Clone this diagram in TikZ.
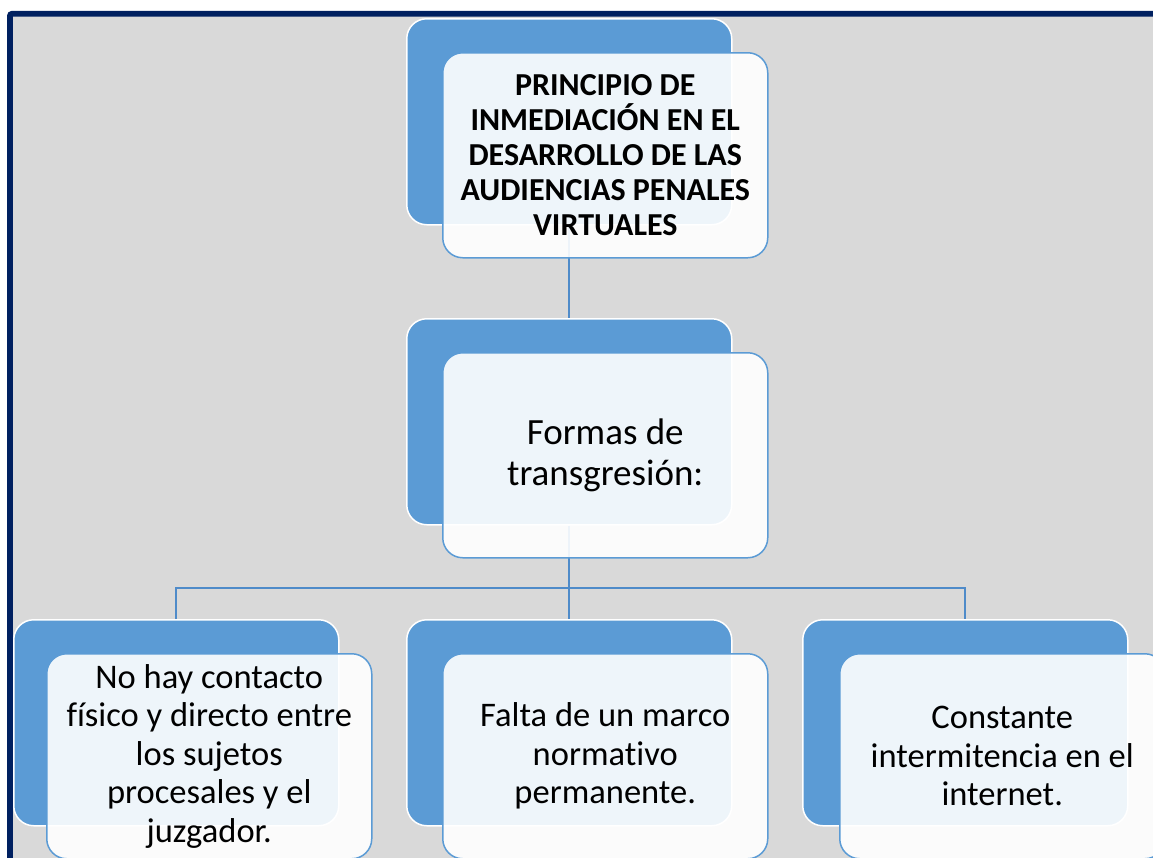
\documentclass[tikz,border=0pt]{standalone}
\usepackage{fontspec}
\setmainfont{Carlito}[Ligatures=NoCommon]
\definecolor{navy}{HTML}{002060}
\definecolor{bg}{HTML}{D9D9D9}
\definecolor{accent}{HTML}{5B9BD5}
\definecolor{linkc}{HTML}{4F8BC9}
\begin{document}
\begin{tikzpicture}[x=1pt,y=-1pt,
  backbox/.style={draw=white, line width=1.5pt, fill=accent, rounded corners=20pt,
    minimum width=325pt, minimum height=206pt, inner sep=0pt, anchor=north west},
  frontbox/.style={draw=accent, line width=1.5pt, fill=white, fill opacity=0.9, text opacity=1,
    rounded corners=20pt, minimum width=325pt, minimum height=205pt, inner sep=0pt,
    anchor=north west, align=center, text=black},
  link/.style={draw=linkc, line width=1.6pt},
  titlefont/.style={font=\fontsize{32}{35}\selectfont\bfseries},
  midfont/.style={font=\fontsize{37}{41}\selectfont},
  lowfont/.style={font=\fontsize{34.5}{38.5}\selectfont}]
\useasboundingbox (0,0) rectangle (1153,857);
\clip (0,0) rectangle (1153,857);
\fill[white] (0,0) rectangle (1153,857);
\draw[navy, line width=5.7pt, fill=bg, rounded corners=2pt] (10,13.8) rectangle (1180,900);
% back boxes
\node[backbox] (b1) at (406,18) {};
\node[backbox] (b2) at (406,318) {};
\node[backbox] (b3) at (13,619) {};
\node[backbox] (b4) at (406,619) {};
\node[backbox] (b5) at (802,619) {};
% connectors
\coordinate (hub) at (b2.south |- 0,588);
\draw[link] (b1.south) -- (b2.north);
\draw[link] (b2.south) -- (b4.north);
\draw[link] (b3.north) |- (hub) -| (b5.north);
% front boxes
\node[frontbox, titlefont] (f1) at (442,52) {PRINCIPIO DE\\INMEDIACIÓN EN EL\\DESARROLLO DE LAS\\AUDIENCIAS PENALES\\VIRTUALES};
\node[frontbox, midfont] (f2) at (442,352) {Formas de\\transgresión:};
\node[frontbox, lowfont] (f3) at (46,653) {No hay contacto\\físico y directo entre\\los sujetos\\procesales y el\\juzgador.};
\node[frontbox, lowfont] (f4) at (442,653) {Falta de un marco\\normativo\\permanente.};
\node[frontbox, lowfont] (f5) at (839,653) {Constante\\intermitencia en el\\internet.};
\end{tikzpicture}
\end{document}
